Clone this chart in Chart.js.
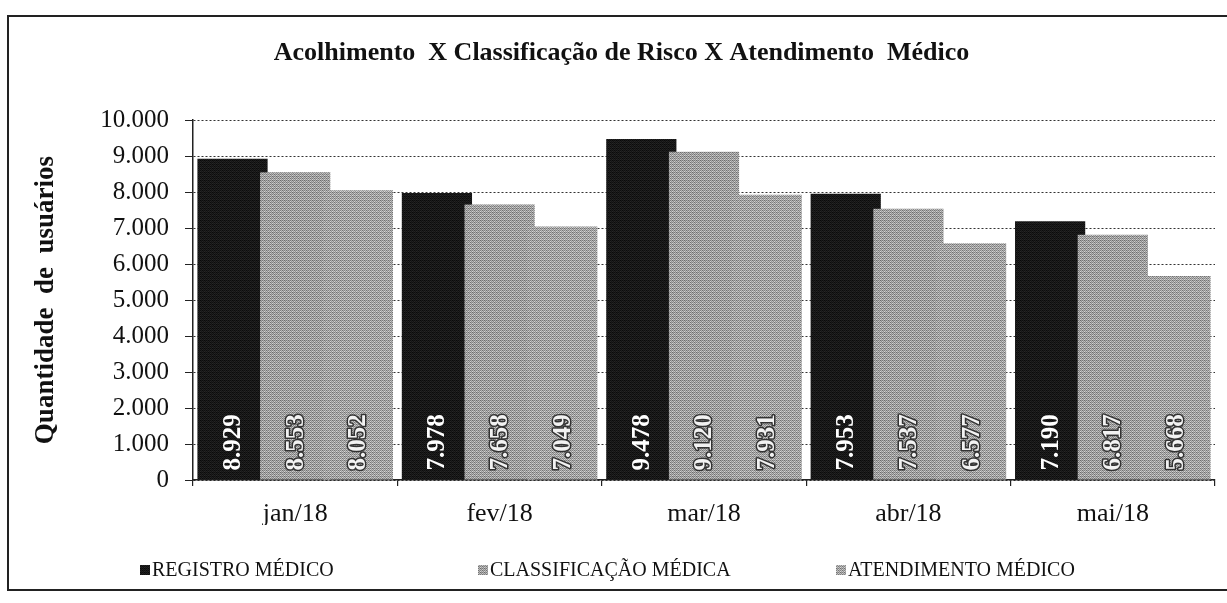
<!DOCTYPE html>
<html lang="pt-BR">
<head>
<meta charset="UTF-8">
<title>Acolhimento X Classificação de Risco X Atendimento Médico</title>
<script src="https://cdn.jsdelivr.net/npm/chart.js"></script>
<style>
  html, body { margin: 0; padding: 0; background: #fff; }
  #grafico { display: block; }
</style>
</head>
<body>
<canvas id="grafico" width="1227" height="603"></canvas>
<script>
// dados
var meses = ['jan/18', 'fev/18', 'mar/18', 'abr/18', 'mai/18'];
var registroMedico = [8929, 7978, 9478, 7953, 7190];
var classificacaoMedica = [8553, 7658, 9120, 7537, 6817];
var atendimentoMedico = [8052, 7049, 7931, 6577, 5668];
var nomesSeries = ['REGISTRO MÉDICO', 'CLASSIFICAÇÃO MÉDICA', 'ATENDIMENTO MÉDICO'];
var escalaY = { min: 0, max: 10000, passo: 1000 };

var fonte = "'Liberation Serif', 'Times New Roman', serif";

// formato 1.234
function numeroBR(v) {
    return String(Math.round(v)).replace(/\B(?=(\d{3})+(?!\d))/g, '.');
}

// textura tipo "scanner" com matriz de Bayer (nada aleatório)
function textura(base, amp) {
    var c = document.createElement('canvas');
    c.width = 4; c.height = 4;
    var cx = c.getContext('2d');
    var bayer = [0, 8, 2, 10, 12, 4, 14, 6, 3, 11, 1, 9, 15, 7, 13, 5];
    for (var i = 0; i < 16; i++) {
        var g = Math.max(0, Math.min(255, Math.round(base + (bayer[i] - 7.5) * amp)));
        cx.fillStyle = 'rgb(' + g + ',' + g + ',' + g + ')';
        cx.fillRect(i % 4, Math.floor(i / 4), 1, 1);
    }
    return cx.createPattern(c, 'repeat');
}

var corPreta = textura(24, 2);
var corCinza1 = textura(158, 7);
var corCinza2 = textura(162, 7);

// moldura em volta do gráfico
var moldura = {
    id: 'moldura',
    beforeDraw: function(chart) {
        var ctx = chart.ctx;
        ctx.save();
        ctx.fillStyle = '#fff';
        ctx.fillRect(0, 0, chart.width, chart.height);
        ctx.strokeStyle = '#222';
        ctx.lineWidth = 2;
        ctx.beginPath();
        ctx.moveTo(chart.width, 16);
        ctx.lineTo(8, 16);
        ctx.lineTo(8, 590);
        ctx.lineTo(chart.width, 590);
        ctx.stroke();
        ctx.restore();
    }
};

// desenha as séries na ordem normal (a última fica por cima)
var ordemBarras = {
    id: 'ordemBarras',
    beforeDatasetsDraw: function(chart) {
        var metas = chart.getSortedVisibleDatasetMetas();
        for (var i = 0; i < metas.length; i++) {
            if (chart._drawDataset) chart._drawDataset(metas[i]);
            else metas[i].controller.draw();
        }
        return false;
    }
};

// valores dentro das barras, na vertical
var rotulos = {
    id: 'rotulos',
    afterDraw: function(chart) {
        var ctx = chart.ctx;
        ctx.save();
        ctx.font = 'bold 25px ' + fonte;
        ctx.textAlign = 'left';
        ctx.textBaseline = 'middle';
        chart.data.datasets.forEach(function(ds, i) {
            var meta = chart.getDatasetMeta(i);
            meta.data.forEach(function(el, j) {
                var txt = numeroBR(ds.data[j]);
                ctx.save();
                ctx.translate(el.x + 1, el.base - 9);
                ctx.rotate(-Math.PI / 2);
                if (i === 0) {
                    ctx.fillStyle = '#fff';
                    ctx.fillText(txt, 0, 0);
                } else {
                    ctx.lineWidth = 3;
                    ctx.strokeStyle = '#333';
                    ctx.lineJoin = 'round';
                    ctx.strokeText(txt, 0, 0);
                    ctx.fillStyle = '#f2f2f2';
                    ctx.fillText(txt, 0, 0);
                }
                ctx.restore();
            });
        });
        ctx.restore();
    }
};

// legenda embaixo
var legenda = {
    id: 'legenda',
    afterDraw: function(chart) {
        var ctx = chart.ctx;
        var xs = [140, 478, 836];
        var y = 571;
        ctx.save();
        ctx.font = '20px ' + fonte;
        ctx.textBaseline = 'middle';
        ctx.textAlign = 'left';
        chart.data.datasets.forEach(function(ds, i) {
            ctx.fillStyle = ds.backgroundColor;
            ctx.fillRect(xs[i], y - 6, 10, 10);
            ctx.fillStyle = '#111';
            ctx.fillText(ds.label, xs[i] + 12, y);
        });
        ctx.restore();
    }
};

var ctx = document.getElementById('grafico').getContext('2d');
var grafico = new Chart(ctx, {
    type: 'bar',
    data: {
        labels: meses,
        datasets: [
            { label: nomesSeries[0], data: registroMedico, backgroundColor: corPreta },
            { label: nomesSeries[1], data: classificacaoMedica, backgroundColor: corCinza1 },
            { label: nomesSeries[2], data: atendimentoMedico, backgroundColor: corCinza2 }
        ]
    },
    options: {
        responsive: false,
        animation: false,
        datasets: {
            bar: { categoryPercentage: 0.92, barPercentage: 1.12 }
        },
        layout: { padding: { left: 28, right: 12, top: 38, bottom: 78 } },
        plugins: {
            legend: { display: false },
            tooltip: { enabled: false },
            title: {
                display: true,
                text: 'Acolhimento  X Classificação de Risco X Atendimento  Médico',
                color: '#111',
                font: { family: fonte, size: 26, weight: 'bold' },
                padding: { top: 0, bottom: 51 }
            }
        },
        scales: {
            x: {
                offset: true,
                afterFit: function(s) { s.height = 45; },
                grid: { display: true, drawOnChartArea: false, offset: true, tickLength: 6, color: '#222', lineWidth: 1.2 },
                border: { display: true, color: '#222', width: 1.5 },
                ticks: { color: '#111', padding: 13, font: { family: fonte, size: 26 } }
            },
            y: {
                min: escalaY.min,
                max: escalaY.max,
                afterFit: function(s) { s.width = 193 - 28; },
                ticks: {
                    stepSize: escalaY.passo,
                    color: '#111',
                    padding: 16,
                    font: { family: fonte, size: 25 },
                    callback: function(v) { return numeroBR(v); }
                },
                grid: {
                    color: '#333',
                    lineWidth: 1,
                    tickLength: 8,
                    tickColor: '#222',
                    tickBorderDash: []
                },
                border: { display: true, color: '#222', width: 1.5, dash: [2, 2] },
                title: {
                    display: true,
                    text: 'Quantidade  de  usuários',
                    color: '#111',
                    font: { family: fonte, size: 27, weight: 'bold' },
                    padding: { top: 2, bottom: 0 }
                }
            }
        }
    },
    plugins: [moldura, ordemBarras, rotulos, legenda]
});
</script>
</body>
</html>
